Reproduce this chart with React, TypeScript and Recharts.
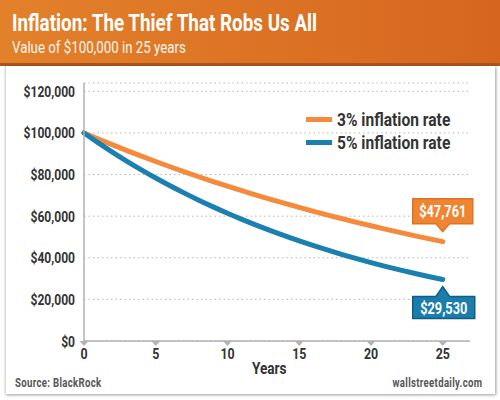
import React from 'react';
import { LineChart, Line, XAxis, YAxis, CartesianGrid, Legend, LabelList } from 'recharts';

const years = [0, 1, 2, 3, 4, 5, 6, 7, 8, 9, 10, 11, 12, 13, 14, 15, 16, 17, 18, 19, 20, 21, 22, 23, 24, 25];
const rate3 = [100000, 97087, 94260, 91514, 88849, 86261, 83748, 81309, 78941, 76642, 74409, 72242, 70138, 68095, 66112, 64186, 62317, 60502, 58739, 57029, 55368, 53755, 52189, 50669, 49193, 47761];
const rate5 = [100000, 95238, 90703, 86384, 82270, 78353, 74622, 71068, 67684, 64461, 61391, 58468, 55684, 53032, 50507, 48102, 45811, 43630, 41552, 39573, 37689, 35894, 34185, 32557, 31007, 29530];
const seriesNames = ['3% inflation rate', '5% inflation rate'];
const yTicks = [0, 20000, 40000, 60000, 80000, 100000, 120000];
const xTicks = [0, 5, 10, 15, 20, 25];
const title = 'Inflation: The Thief That Robs Us All';
const subtitle = 'Value of $100,000 in 25 years';
const xLabel = 'Years';
const source = 'Source: BlackRock';
const brand = 'wallstreetdaily.com';

const data = years.map((y, i) => ({ year: y, r3: rate3[i], r5: rate5[i] }));

const FONT = 'Roboto, "DejaVu Sans", sans-serif';
const SX = 0.8;
const ORANGE = '#f58a3d';
const BLUE = '#1a80b0';
const TEXT = '#333333';
const LAST = years.length - 1;

const fmt = (v: number) => '$' + v.toLocaleString('en-US');

const SText = (props: any) => {
  const { x, y, anchor, children, sx, ...rest } = props;
  return (
    <g transform={`translate(${x},${y}) scale(${sx ?? SX},1)`}>
      <text x={0} y={0} textAnchor={anchor} fontFamily={FONT} fontWeight="bold" {...rest}>
        {children}
      </text>
    </g>
  );
};

const YTick = (props: any) => {
  const { x, y, payload } = props;
  return (
    <SText x={x} y={y + 5.5} anchor="end" fontSize={15.5} fill={TEXT} sx={0.78}>
      {fmt(payload.value)}
    </SText>
  );
};

const XTick = (props: any) => {
  const { x, y, payload } = props;
  const ay = y - 8;
  return (
    <g>
      <path d={`M${x - 4.5},${ay} L${x + 4.5},${ay} L${x},${ay + 5} Z`} fill="#b3b3b3" />
      <SText x={x} y={y + 10} anchor="middle" fontSize={15.5} fill={TEXT}>
        {payload.value}
      </SText>
    </g>
  );
};

const makeCallout = (fill: string, border: string, above: boolean) => (props: any) => {
  const { x, y, value, index } = props;
  if (index !== LAST) return null;
  const w = 60;
  const h = 25;
  const left = x - 30;
  if (above) {
    const tip = y - 10;
    const bottom = tip - 8;
    const top = bottom - h;
    return (
      <g>
        <path
          d={`M${left},${top} L${left + w},${top} L${left + w},${bottom} L${x + 7},${bottom} L${x},${tip} L${x - 7},${bottom} L${left},${bottom} Z`}
          fill={fill}
          stroke={border}
          strokeWidth={1.5}
        />
        <SText x={x} y={top + 18.5} anchor="middle" fontSize={16} fill="#ffffff">
          {fmt(value)}
        </SText>
      </g>
    );
  }
  const tip = y + 7;
  const top = tip + 10;
  const bottom = top + h - 3;
  return (
    <g>
      <path
        d={`M${left},${top} L${x - 7},${top} L${x},${tip} L${x + 7},${top} L${left + w + 2},${top} L${left + w + 2},${bottom} L${left},${bottom} Z`}
        fill={fill}
        stroke={border}
        strokeWidth={1.5}
      />
      <SText x={x + 1} y={top + 17} anchor="middle" fontSize={16} fill="#ffffff">
        {fmt(value)}
      </SText>
    </g>
  );
};

const LegendContent = () => (
  <div style={{ fontFamily: FONT, fontWeight: 'bold', fontSize: 17.5, color: TEXT }}>
    {[ORANGE, BLUE].map((c, i) => (
      <div key={i} style={{ display: 'flex', alignItems: 'center', height: 23 }}>
        <div style={{ width: 26, height: 5, background: c, marginRight: 5 }} />
        <span style={{ display: 'inline-block', whiteSpace: 'nowrap', transform: 'scaleX(0.89)', transformOrigin: 'left center' }}>
          {seriesNames[i]}
        </span>
      </div>
    ))}
  </div>
);

const HText = (props: any) => {
  const { style, origin, sx, children } = props;
  return (
    <div style={{ position: 'absolute', whiteSpace: 'nowrap', fontFamily: FONT, transform: `scaleX(${sx ?? SX})`, transformOrigin: origin || 'left top', ...style }}>
      {children}
    </div>
  );
};

export default function App() {
  return (
    <div style={{ position: 'fixed', left: 0, top: 0, width: 500, height: 400, background: '#ffffff', overflow: 'hidden' }}>
      <div
        style={{
          position: 'absolute', left: 0, top: 0, width: 500, height: 63,
          background: 'linear-gradient(to right, #e3812a, #d6661f)',
          borderBottom: '3px solid #a9561e',
        }}
      />
      <HText sx={0.785} style={{ left: 12, top: 9, color: '#ffffff', fontWeight: 'bold', fontSize: 24, lineHeight: '28px' }}>{title}</HText>
      <HText sx={0.83} style={{ left: 12, top: 38, color: '#fff6ee', fontSize: 16, lineHeight: '20px' }}>{subtitle}</HText>
      <div
        style={{
          position: 'absolute', left: 5, top: 66, width: 489, height: 328, background: '#ffffff',
          boxShadow: '1px 1px 3px rgba(0,0,0,0.4)', borderLeft: '1px solid #d8d8d8',
        }}
      />
      <div style={{ position: 'absolute', left: 0, top: 0 }}>
        <LineChart width={500} height={400} data={data} margin={{ top: 83, right: 30, bottom: 29, left: 14 }}>
          <CartesianGrid vertical={false} stroke="#b5b5b5" strokeDasharray="1.5 3" />
          <XAxis
            dataKey="year"
            type="number"
            domain={[0, 26.9]}
            ticks={xTicks}
            height={30}
            axisLine={{ stroke: '#b0b0b0', strokeWidth: 1.5 }}
            tickLine={false}
            tickSize={6}
            tickMargin={2}
            tick={<XTick />}
            interval={0}
          />
          <YAxis
            type="number"
            domain={[0, 124000]}
            ticks={yTicks}
            width={70}
            axisLine={{ stroke: '#b0b0b0', strokeWidth: 1.5 }}
            tickLine={false}
            tickSize={6}
            tickMargin={3}
            tick={<YTick />}
            interval={0}
          />
          <Legend
            verticalAlign="middle"
            align="center"
            layout="vertical"
            content={<LegendContent />}
            wrapperStyle={{ position: 'absolute', left: 306, top: 108, width: 175 }}
          />
          <Line
            type="monotone"
            dataKey="r3"
            name={seriesNames[0]}
            stroke={ORANGE}
            strokeWidth={5}
            strokeLinecap="round"
            dot={false}
            activeDot={false}
            isAnimationActive={false}
          >
            <LabelList dataKey="r3" content={makeCallout('#ef8532', '#e07323', true)} />
          </Line>
          <Line
            type="monotone"
            dataKey="r5"
            name={seriesNames[1]}
            stroke={BLUE}
            strokeWidth={5}
            strokeLinecap="round"
            dot={false}
            activeDot={false}
            isAnimationActive={false}
          >
            <LabelList dataKey="r5" content={makeCallout('#1a7dac', '#0f5d85', false)} />
          </Line>
        </LineChart>
      </div>
      <HText style={{ left: 252, top: 358, fontWeight: 'bold', fontSize: 17, color: TEXT, lineHeight: '20px' }}>{xLabel}</HText>
      <HText style={{ left: 15, top: 376, fontWeight: 'bold', fontSize: 12, color: '#555555', lineHeight: '14px', letterSpacing: 0.4 }}>{source}</HText>
      <HText origin="right top" style={{ right: 18, top: 376, fontWeight: 'bold', fontSize: 12, color: '#555555', lineHeight: '14px', letterSpacing: 0.4 }}>{brand}</HText>
    </div>
  );
}
